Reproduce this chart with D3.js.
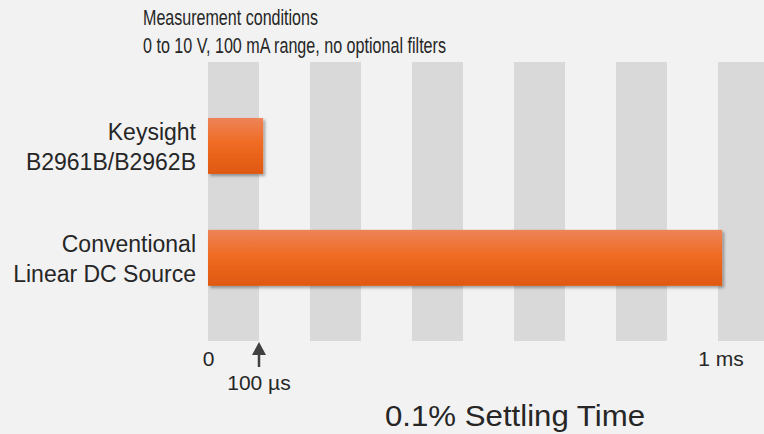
<!DOCTYPE html>
<html>
<head>
<meta charset="utf-8">
<script src="https://cdn.jsdelivr.net/npm/d3@7"></script>
<style>
  body { margin: 0; background: #f2f2f2; }
  svg { display: block; font-family: "Liberation Sans", Arial, sans-serif; }
</style>
</head>
<body>
<svg width="764" height="434"></svg>
<script>
// categories, two text lines each
const categories = ["Keysight", "Conventional"];
const categoryLines = [
    ["Keysight", "B2961B/B2962B"],
    ["Conventional", "Linear DC Source"]
];
// settling time in microseconds
const settlingValues = [108, 1008];
// shaded 100 µs bands start here
const stripeStarts = [0, 200, 400, 600, 800, 1000];
const tickValues = [0, 1000];
const tickLabels = ["0", "1 ms"];
const markerValue = 100;
const markerLabel = "100 µs";
const titleLines = ["Measurement conditions", "0 to 10 V, 100 mA range, no optional filters"];
const xTitle = "0.1% Settling Time";

const chart = () => {
    const width = 764;
    const height = 434;
    const margin = { top: 62, right: 0, bottom: 93, left: 208 };
    const stripeWidth = 100;

    var svg = d3.select("svg");

    svg.append("rect")
        .attr("width", width)
        .attr("height", height)
        .attr("fill", "#f2f2f2");

    var defs = svg.append("defs");
    var grad = defs.append("linearGradient")
        .attr("id", "barGrad")
        .attr("x1", 0).attr("y1", 0).attr("x2", 0).attr("y2", 1);
    grad.append("stop").attr("offset", "0%").attr("stop-color", "#ed8459");
    grad.append("stop").attr("offset", "45%").attr("stop-color", "#f06b23");
    grad.append("stop").attr("offset", "100%").attr("stop-color", "#df5810");

    defs.append("filter")
        .attr("id", "shadow")
        .attr("x", "-10%").attr("y", "-20%").attr("width", "130%").attr("height", "160%")
      .append("feDropShadow")
        .attr("dx", 2).attr("dy", 2)
        .attr("stdDeviation", 1.5)
        .attr("flood-color", "#000")
        .attr("flood-opacity", 0.35);

    // scales
    var x = d3.scaleLinear()
        .domain([0, 1000])
        .range([margin.left, 718]);

    var y = d3.scaleBand()
        .domain(categories)
        .range([margin.top, height - margin.bottom + 0.75])
        .paddingInner(0.5)
        .paddingOuter(0.5);

    // background stripes
    svg.append("g")
        .attr("fill", "#d9d9d9")
    .selectAll("rect")
    .data(stripeStarts)
    .enter().append("rect")
        .attr("x", d => x(d))
        .attr("y", margin.top)
        .attr("width", d => Math.min(x(d + stripeWidth), width) - x(d))
        .attr("height", height - margin.bottom - margin.top);

    // bars
    svg.append("g")
        .attr("fill", "url(#barGrad)")
        .attr("filter", "url(#shadow)")
    .selectAll("rect")
    .data(categories)
    .enter().append("rect")
        .attr("x", x(0))
        .attr("y", d => y(d))
        .attr("width", (d, i) => x(settlingValues[i]) - x(0))
        .attr("height", y.bandwidth());

    // category labels
    var labels = svg.append("g")
        .attr("fill", "#262626")
        .attr("text-anchor", "end")
        .style("font-size", "23px")
    .selectAll("text")
    .data(categories)
    .enter().append("text")
        .attr("x", x(0) - 12)
        .attr("y", d => y(d) + y.bandwidth() / 2);
    labels.append("tspan")
        .attr("x", x(0) - 12)
        .attr("dy", -5.5)
        .text((d, i) => categoryLines[i][0]);
    labels.append("tspan")
        .attr("x", x(0) - 12)
        .attr("dy", 29.5)
        .text((d, i) => categoryLines[i][1]);

    // x axis, labels only
    var xAxis = g => g
        .attr("transform", `translate(0,${height - margin.bottom})`)
        .call(d3.axisBottom(x)
            .tickValues(tickValues)
            .tickFormat((d, i) => tickLabels[i])
            .tickSize(0)
            .tickPadding(10))
        .call(g => g.select(".domain").remove())
        .call(g => g.selectAll("text")
            .attr("fill", "#262626")
            .style("font-family", "'Liberation Sans', Arial, sans-serif")
            .style("font-size", "21px"));
    svg.append("g").call(xAxis);
    svg.selectAll(".tick").filter(d => d === 1000)
        .attr("transform", `translate(${x(1000) + 3},0)`);

    // 100 µs marker arrow
    var mx = x(markerValue);
    var base = height - margin.bottom;
    svg.append("line")
        .attr("x1", mx).attr("x2", mx)
        .attr("y1", base + 10).attr("y2", base + 26)
        .attr("stroke", "#404040")
        .attr("stroke-width", 2.5);
    svg.append("path")
        .attr("d", `M${mx},${base + 1}L${mx - 7},${base + 14}L${mx + 7},${base + 14}Z`)
        .attr("fill", "#404040");
    svg.append("text")
        .attr("x", mx)
        .attr("y", base + 49)
        .attr("text-anchor", "middle")
        .attr("fill", "#262626")
        .style("font-size", "21px")
        .text(markerLabel);

    // x title
    svg.append("text")
        .attr("x", 385)
        .attr("y", 426)
        .attr("fill", "#262626")
        .attr("textLength", 260)
        .attr("lengthAdjust", "spacingAndGlyphs")
        .style("font-size", "29px")
        .text(xTitle);

    // measurement conditions (narrow face)
    var titleWidths = [175, 303];
    svg.append("g")
        .attr("fill", "#262626")
        .style("font-size", "22px")
    .selectAll("text")
    .data(titleLines)
    .enter().append("text")
        .attr("x", 143)
        .attr("y", (d, i) => 25 + i * 28)
        .attr("textLength", (d, i) => titleWidths[i])
        .attr("lengthAdjust", "spacingAndGlyphs")
        .text(d => d);
};

chart();
</script>
</body>
</html>
